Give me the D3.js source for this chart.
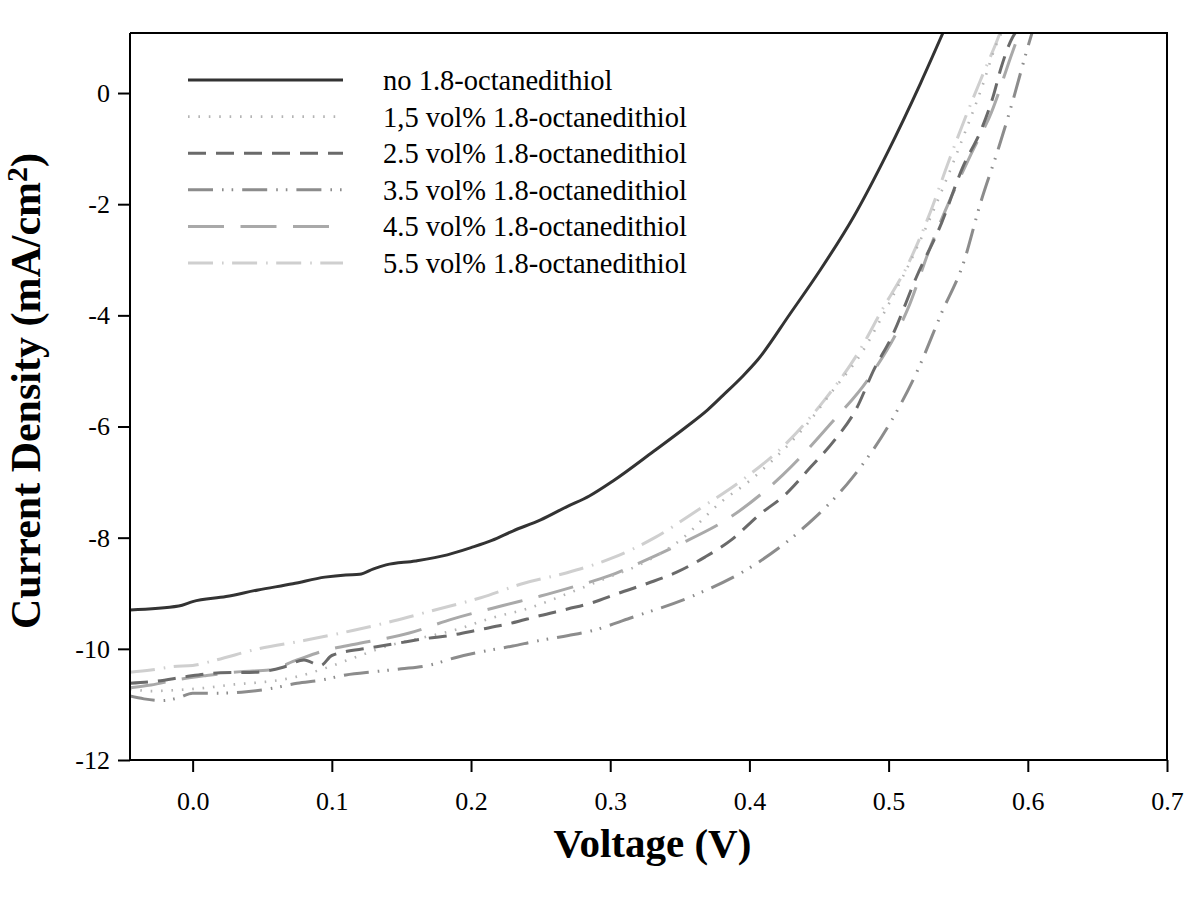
<!DOCTYPE html>
<html>
<head>
<meta charset="utf-8">
<script src="https://cdn.jsdelivr.net/npm/d3@7"></script>
<style>
  html, body { margin: 0; padding: 0; background: #fff; }
  svg { display: block; }
  text { font-family: "Liberation Serif", "Times New Roman", serif; fill: #000; }
</style>
</head>
<body>
<svg id="chart" width="1200" height="916"></svg>
<script>
// ---- data ----
const seriesNames = [
  "no 1.8-octanedithiol",
  "1,5 vol% 1.8-octanedithiol",
  "2.5 vol% 1.8-octanedithiol",
  "3.5 vol% 1.8-octanedithiol",
  "4.5 vol% 1.8-octanedithiol",
  "5.5 vol% 1.8-octanedithiol"
];

const vNo = [-0.045,-0.01,0.0,0.024,0.047,0.072,0.095,0.11,0.12,0.13,0.139,0.16,0.183,0.2,0.215,0.23,0.25,0.269,0.285,0.302,0.331,0.355,0.37,0.381,0.395,0.406,0.429,0.451,0.475,0.499,0.523,0.539];
const jNo = [-9.30,-9.23,-9.15,-9.06,-8.94,-8.83,-8.71,-8.67,-8.66,-8.56,-8.49,-8.42,-8.31,-8.18,-8.05,-7.88,-7.68,-7.44,-7.25,-6.98,-6.45,-6.0,-5.7,-5.44,-5.1,-4.8,-3.98,-3.18,-2.22,-1.08,0.18,1.08];

const v15 = [-0.045,-0.03,-0.01,0.01,0.03,0.05,0.063,0.075,0.095,0.116,0.14,0.165,0.19,0.214,0.24,0.27,0.3,0.32,0.35,0.38,0.4,0.417,0.44,0.46,0.48,0.5,0.52,0.54,0.555,0.567,0.577,0.581];
const j15 = [-10.72,-10.76,-10.74,-10.7,-10.64,-10.6,-10.56,-10.5,-10.35,-10.16,-9.95,-9.8,-9.65,-9.45,-9.28,-9.0,-8.7,-8.5,-8.05,-7.35,-6.98,-6.6,-6.0,-5.35,-4.7,-3.8,-2.8,-1.65,-0.7,0.1,0.85,1.08];

const v25 = [-0.045,-0.025,-0.005,0.02,0.045,0.065,0.08,0.092,0.1,0.128,0.147,0.166,0.187,0.205,0.227,0.25,0.27,0.287,0.306,0.327,0.347,0.368,0.387,0.407,0.426,0.444,0.462,0.476,0.49,0.502,0.52,0.538,0.553,0.567,0.575,0.581,0.589,0.591];
const j25 = [-10.62,-10.58,-10.5,-10.43,-10.42,-10.33,-10.2,-10.3,-10.12,-9.98,-9.9,-9.82,-9.75,-9.66,-9.55,-9.4,-9.28,-9.17,-9.0,-8.82,-8.63,-8.35,-8.04,-7.59,-7.22,-6.73,-6.22,-5.72,-4.95,-4.4,-3.31,-2.34,-1.35,-0.63,-0.07,0.47,1.0,1.08];

const v35 = [-0.045,-0.035,-0.022,-0.01,0.0,0.017,0.035,0.055,0.075,0.093,0.11,0.131,0.15,0.169,0.19,0.208,0.23,0.247,0.27,0.286,0.314,0.363,0.401,0.439,0.474,0.501,0.521,0.538,0.554,0.566,0.579,0.589,0.599,0.603];
const j35 = [-10.85,-10.9,-10.93,-10.88,-10.8,-10.8,-10.78,-10.72,-10.62,-10.56,-10.47,-10.41,-10.36,-10.3,-10.15,-10.05,-9.95,-9.86,-9.76,-9.68,-9.45,-9.01,-8.53,-7.82,-6.92,-5.94,-4.98,-3.96,-3.04,-1.98,-0.99,-0.16,0.74,1.08];

const v45 = [-0.045,-0.03,-0.01,0.01,0.035,0.055,0.075,0.095,0.12,0.155,0.187,0.223,0.25,0.274,0.3,0.316,0.349,0.387,0.424,0.458,0.488,0.514,0.53,0.545,0.56,0.574,0.589,0.594];
const j45 = [-10.7,-10.65,-10.55,-10.48,-10.41,-10.38,-10.2,-10.03,-9.9,-9.72,-9.46,-9.22,-9.05,-8.88,-8.68,-8.51,-8.13,-7.62,-6.87,-5.96,-5.05,-3.87,-2.77,-1.87,-1.06,-0.34,0.74,1.08];

const v55 = [-0.045,-0.03,-0.014,0.0,0.017,0.047,0.08,0.115,0.144,0.174,0.207,0.238,0.269,0.302,0.332,0.363,0.395,0.427,0.454,0.478,0.496,0.513,0.53,0.543,0.555,0.567,0.578,0.58];
const j55 = [-10.42,-10.38,-10.32,-10.3,-10.2,-10.0,-9.85,-9.67,-9.5,-9.3,-9.08,-8.82,-8.63,-8.36,-8.0,-7.5,-6.96,-6.29,-5.52,-4.68,-3.87,-3.13,-2.14,-1.24,-0.45,0.29,0.95,1.08];

const xTicks = [0.0, 0.1, 0.2, 0.3, 0.4, 0.5, 0.6, 0.7];
const yTicks = [-12, -10, -8, -6, -4, -2, 0];
const xTitle = "Voltage (V)";
const yTitle = "Current Density (mA/cm";

// ---- styles ----
const styles = [
  { color: "#333333", width: 3,   dash: null },
  { color: "#b4b4b4", width: 2.6, dash: "1.6,8.8" },
  { color: "#6a6a6a", width: 3,   dash: "18,10" },
  { color: "#8c8c8c", width: 3,   dash: "25,9,1.6,8,1.6,9" },
  { color: "#a9a9a9", width: 3,   dash: "36,16.5" },
  { color: "#cfcfcf", width: 3,   dash: "25,9,1.6,8.5" }
];

const seriesData = [[vNo,jNo],[v15,j15],[v25,j25],[v35,j35],[v45,j45],[v55,j55]]
  .map(([v, j]) => v.map((d, i) => ({ v: d, j: j[i] })));

// ---- layout ----
const svg = d3.select("#chart");
const L = 130, R = 1167, T = 33, B = 760;
const x = d3.scaleLinear().domain([-0.045, 0.7]).range([L, R]);
const y = d3.scaleLinear().domain([-12, 1.08]).range([B, T]);

svg.append("defs").append("clipPath").attr("id", "plotclip")
  .append("rect").attr("x", L).attr("y", T).attr("width", R - L).attr("height", B - T);

// curves (draw light ones first, solid last)
const line = d3.line().x(d => x(d.v)).y(d => y(d.j)).curve(d3.curveMonotoneX);
const g = svg.append("g").attr("clip-path", "url(#plotclip)");
const order = [5, 4, 1, 3, 2, 0];
order.forEach(i => {
  g.append("path")
    .datum(seriesData[i])
    .attr("d", line)
    .attr("fill", "none")
    .attr("stroke", styles[i].color)
    .attr("stroke-width", styles[i].width)
    .attr("stroke-dasharray", styles[i].dash)
    .attr("stroke-linejoin", "round");
});

// axes
const xAxis = d3.axisBottom(x).tickValues(xTicks).tickFormat(d3.format(".1f"))
  .tickSize(12).tickSizeOuter(0).tickPadding(20);
const yAxis = d3.axisLeft(y).tickValues(yTicks).tickFormat(d => String(d))
  .tickSize(12).tickSizeOuter(0).tickPadding(8);

const gx = svg.append("g").attr("transform", `translate(0,${B})`).call(xAxis);
const gy = svg.append("g").attr("transform", `translate(${L},0)`).call(yAxis);
[gx, gy].forEach(ax => {
  ax.select(".domain").attr("stroke", "#000").attr("stroke-width", 2);
  ax.selectAll(".tick line").attr("stroke", "#000").attr("stroke-width", 2);
  ax.selectAll(".tick text")
    .style("font-family", "'Liberation Serif', 'Times New Roman', serif")
    .style("font-size", "26px").attr("fill", "#000");
});
gx.select(".domain").attr("d", `M${L - 1},0H${R + 1}`);
gy.select(".domain").attr("d", `M0,${T}V${B}`);

// frame top and right
svg.append("line").attr("x1", L).attr("x2", R + 1).attr("y1", T).attr("y2", T)
  .attr("stroke", "#000").attr("stroke-width", 2);
svg.append("line").attr("x1", R).attr("x2", R).attr("y1", T).attr("y2", B)
  .attr("stroke", "#000").attr("stroke-width", 2);

// axis titles
svg.append("text")
  .attr("x", (L + R) / 2 + 4).attr("y", 857)
  .attr("text-anchor", "middle")
  .style("font-size", "41px").style("font-weight", "bold")
  .text(xTitle);

const yt = svg.append("text")
  .attr("transform", `translate(40,391) rotate(-90)`)
  .attr("text-anchor", "middle")
  .style("font-size", "42px").style("font-weight", "bold");
yt.append("tspan").text(yTitle);
yt.append("tspan").attr("dy", "-0.42em").style("font-size", "30px").text("2");
yt.append("tspan").attr("dy", "0.3em").text(")");

// legend
const legend = svg.append("g");
seriesNames.forEach((name, i) => {
  const ly = 80 + 36.6 * i;
  legend.append("line")
    .attr("x1", 188).attr("x2", 343).attr("y1", ly).attr("y2", ly)
    .attr("stroke", styles[i].color)
    .attr("stroke-width", styles[i].width)
    .attr("stroke-dasharray", styles[i].dash);
  legend.append("text")
    .attr("x", 383).attr("y", ly + 10)
    .style("font-size", "28.5px")
    .text(name);
});
</script>
</body>
</html>
